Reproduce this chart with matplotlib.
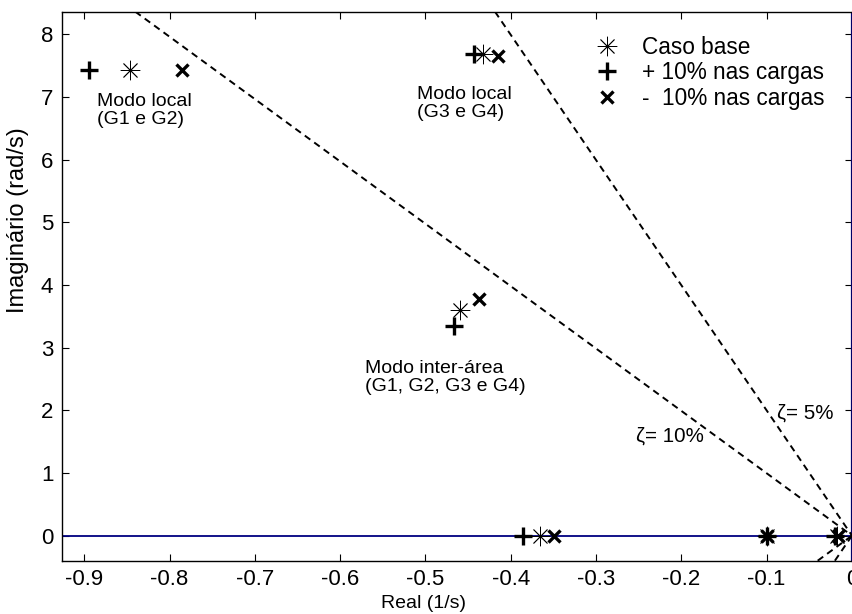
import numpy as np
import matplotlib
matplotlib.use("Agg")
import matplotlib.pyplot as plt

plt.rcParams['font.family'] = ['Liberation Sans', 'DejaVu Sans']

# Eigenvalues (real, imag)
base_re = [-0.846, -0.433, -0.459, -0.366, -0.100, -0.018]
base_im = [7.43, 7.68, 3.60, 0.0, 0.0, 0.0]
plus_re = [-0.895, -0.443, -0.467, -0.386, -0.100, -0.020]
plus_im = [7.43, 7.68, 3.35, 0.0, 0.0, 0.0]
minus_re = [-0.786, -0.415, -0.437, -0.349, -0.100, -0.016]
minus_im = [7.43, 7.66, 3.775, 0.0, 0.0, 0.0]

zetas = [0.10, 0.05]
zeta_labels = ["\u03b6= 10%", "\u03b6= 5%"]
legend_labels = ["Caso base", "+ 10% nas cargas", "-  10% nas cargas"]
xticks = [-0.9, -0.8, -0.7, -0.6, -0.5, -0.4, -0.3, -0.2, -0.1, 0]
yticks = [0, 1, 2, 3, 4, 5, 6, 7, 8]

fig = plt.figure(figsize=(8.53, 6.14), dpi=100)
ax = fig.add_axes([0.0723, 0.0868, 0.9265, 0.8942])
xmin, xmax = -0.9265, 0.0
ymin, ymax = -0.40, 8.36

# damping lines
for z in zetas:
    s = np.sqrt(1 - z**2) / z
    ax.plot([-ymax / s, 0.0], [ymax, 0.0], ls=(0, (3.5, 2.5)), color='black', lw=1.4, zorder=3)
    ax.plot([ymin / s, 0.0], [ymin, 0.0], ls=(0, (3.5, 2.5)), color='black', lw=1.4, zorder=3)

ax.axhline(0, color='#000080', lw=1.3, zorder=2)
ax.axvline(0, color='#000080', lw=1.6, zorder=2)

h1, = ax.plot(base_re, base_im, ls='none', marker=(8, 2, 0), ms=14, mew=0.6,
              color='black', zorder=5)
h2, = ax.plot(plus_re, plus_im, ls='none', marker='+', ms=13, mew=2.4,
              color='black', zorder=5)
h3, = ax.plot(minus_re, minus_im, ls='none', marker='x', ms=8.5, mew=2.4,
              color='black', zorder=5)

leg = ax.legend([h1, h2, h3], legend_labels, loc='upper left',
                bbox_to_anchor=(0.656, 0.972), frameon=False, fontsize=16.3,
                handlelength=1.6, handletextpad=0.75, labelspacing=0.1,
                borderaxespad=0)

fs = 14
ax.text(-0.8855, 7.06, "Modo local\n(G1 e G2)", fontsize=fs, va='top', ha='left',
        linespacing=1.05)
ax.text(-0.510, 7.17, "Modo local\n(G3 e G4)", fontsize=fs, va='top', ha='left',
        linespacing=1.05)
ax.text(-0.5713, 2.80, "Modo inter-\u00e1rea\n(G1, G2, G3 e G4)", fontsize=fs,
        va='top', ha='left', linespacing=1.05)
ax.text(-0.253, 1.59, zeta_labels[0], fontsize=14.8, va='center', ha='left')
ax.text(-0.0877, 1.96, zeta_labels[1], fontsize=14.8, va='center', ha='left')

ax.set_xlim(xmin, xmax)
ax.set_ylim(ymin, ymax)
ax.set_xticks(xticks)
ax.set_xticklabels([("%g" % t) for t in xticks])
ax.set_yticks(yticks)
ax.tick_params(direction='in', length=5, width=0.8, labelsize=16, colors='black',
               top=True, right=True, pad=6)
for sp in ax.spines.values():
    sp.set_linewidth(1.0)
ax.set_xlabel("Real (1/s)", fontsize=14)
ax.xaxis.set_label_coords(0.458, -0.062)
ax.set_ylabel("Imagin\u00e1rio (rad/s)", fontsize=17)
ax.yaxis.set_label_coords(-0.041, 0.62)

fig.savefig("out.png", dpi=100)
